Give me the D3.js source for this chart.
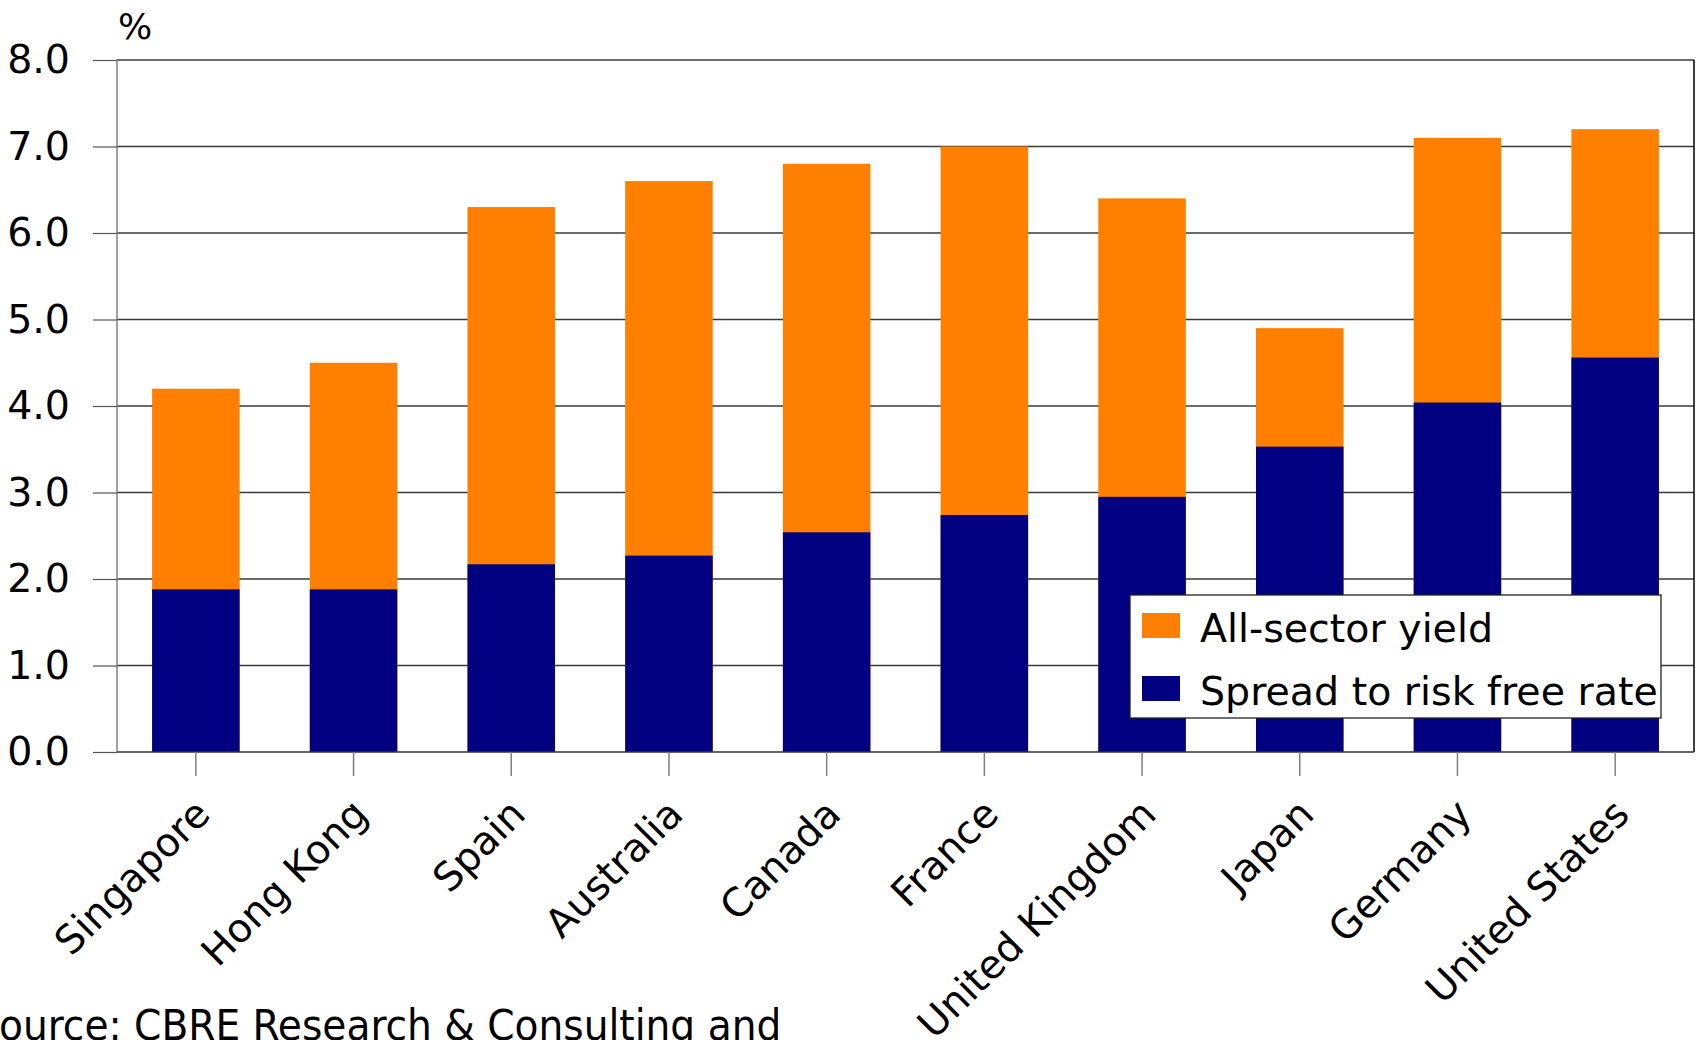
<!DOCTYPE html>
<html>
<head>
<meta charset="utf-8">
<script src="https://cdn.jsdelivr.net/npm/d3@7"></script>
<style>
  body { margin: 0; background: #fff; }
  svg text { font-family: "DejaVu Sans", Verdana, sans-serif; fill: #000; }
</style>
</head>
<body>
<svg></svg>
<script>
var width = 1697;
var height = 1040;

// data
var countries = ["Singapore", "Hong Kong", "Spain", "Australia", "Canada",
                 "France", "United Kingdom", "Japan", "Germany", "United States"];
var allSectorYield = [4.2, 4.5, 6.3, 6.6, 6.8, 7.0, 6.4, 4.9, 7.1, 7.2];
var spreadToRiskFree = [1.88, 1.88, 2.17, 2.27, 2.54, 2.74, 2.95, 3.53, 4.04, 4.56];
var yTicks = [0, 1, 2, 3, 4, 5, 6, 7, 8];
var seriesNames = ["All-sector yield", "Spread to risk free rate"];
var seriesColors = ["#ff8000", "#000080"];

var margin = { left: 117, right: 3, top: 60, bottom: 288 };

var svg = d3.select("svg")
    .attr("width", width)
    .attr("height", height);

var x = d3.scaleBand()
    .domain(countries)
    .range([margin.left, width - margin.right])
    .paddingInner(0.445)
    .paddingOuter(0.2225);

var y = d3.scaleLinear()
    .domain([0, 8])
    .range([height - margin.bottom, margin.top]);

var x0 = margin.left, x1 = width - margin.right;
var yBase = y(0);

// gridlines (behind bars)
svg.append("g")
    .attr("class", "grid")
  .selectAll("line")
  .data(yTicks.filter(function(d) { return d > 0; }))
  .enter().append("line")
    .attr("x1", x0)
    .attr("x2", x1)
    .attr("y1", function(d) { return y(d); })
    .attr("y2", function(d) { return y(d); })
    .attr("stroke", "#3a3a3a")
    .attr("stroke-width", 1.4);

var rows = countries.map(function(c, i) {
  return { country: c, total: allSectorYield[i], spread: spreadToRiskFree[i] };
});

// orange: all-sector yield
svg.append("g").selectAll("rect")
  .data(rows)
  .enter().append("rect")
    .attr("x", function(d) { return x(d.country); })
    .attr("width", x.bandwidth())
    .attr("y", function(d) { return y(d.total); })
    .attr("height", function(d) { return yBase - y(d.total); })
    .attr("fill", seriesColors[0]);

// navy: spread to risk free rate
svg.append("g").selectAll("rect")
  .data(rows)
  .enter().append("rect")
    .attr("x", function(d) { return x(d.country); })
    .attr("width", x.bandwidth())
    .attr("y", function(d) { return y(d.spread); })
    .attr("height", function(d) { return yBase - y(d.spread); })
    .attr("fill", seriesColors[1]);

// frame
svg.append("line")
    .attr("x1", x0).attr("x2", x0)
    .attr("y1", y(8)).attr("y2", yBase)
    .attr("stroke", "#808080").attr("stroke-width", 1.5);
svg.append("line")
    .attr("x1", x1).attr("x2", x1)
    .attr("y1", y(8)).attr("y2", yBase)
    .attr("stroke", "#000").attr("stroke-width", 1.5);
svg.append("line")
    .attr("x1", x0).attr("x2", x1)
    .attr("y1", yBase).attr("y2", yBase)
    .attr("stroke", "#333").attr("stroke-width", 1.5);

// y axis
var yAxis = d3.axisLeft(y)
    .tickValues(yTicks)
    .tickSize(24)
    .tickPadding(23)
    .tickFormat(d3.format(".1f"));

var gy = svg.append("g")
    .attr("transform", "translate(" + x0 + ",0)")
    .call(yAxis);
gy.select(".domain").remove();
gy.selectAll(".tick line").attr("stroke", "#555").attr("stroke-width", 1.2);
gy.selectAll(".tick text")
    .attr("font-size", "39.5px")
    .attr("font-family", "DejaVu Sans, Verdana, sans-serif")
    .attr("fill", "#000");

// x axis
var xAxis = d3.axisBottom(x).tickSize(24).tickFormat("");
var gx = svg.append("g")
    .attr("transform", "translate(0," + yBase + ")")
    .call(xAxis);
gx.select(".domain").remove();
gx.selectAll(".tick line").attr("stroke", "#808080").attr("stroke-width", 1.5);

svg.append("g").selectAll("text")
  .data(countries)
  .enter().append("text")
    .attr("transform", function(d) {
      return "translate(" + (x(d) + x.bandwidth() / 2) + "," + yBase + ") rotate(-45)";
    })
    .attr("x", -34)
    .attr("y", 57)
    .attr("text-anchor", "end")
    .attr("font-size", "39.5px")
    .text(function(d) { return d; });

// unit label
svg.append("text")
    .attr("x", 118)
    .attr("y", 39)
    .attr("font-size", "36px")
    .text("%");

// legend
var legend = svg.append("g").attr("transform", "translate(1130,595)");
legend.append("rect")
    .attr("width", 531)
    .attr("height", 123)
    .attr("fill", "#fff")
    .attr("stroke", "#222")
    .attr("stroke-width", 1.3);

var items = legend.selectAll(".item")
  .data(seriesNames)
  .enter().append("g")
    .attr("class", "item")
    .attr("transform", function(d, i) { return "translate(0," + (i * 63) + ")"; });
items.append("rect")
    .attr("x", 12)
    .attr("y", 18)
    .attr("width", 38)
    .attr("height", 25)
    .attr("fill", function(d, i) { return seriesColors[i]; });
items.append("text")
    .attr("x", 70)
    .attr("y", 47)
    .attr("font-size", "39.5px")
    .text(function(d) { return d; });

// source note, clipped by the page edge like the original
var src = svg.append("text")
    .attr("y", 1040)
    .attr("font-size", "43.5px")
    .style("font-family", "'DejaVu Sans Condensed', 'DejaVu Sans', sans-serif")
    .style("font-stretch", "condensed")
    .text("Source: CBRE Research & Consulting and");
var sw = src.node().getSubStringLength(0, 1);
src.attr("x", -sw - 1);
</script>
</body>
</html>
